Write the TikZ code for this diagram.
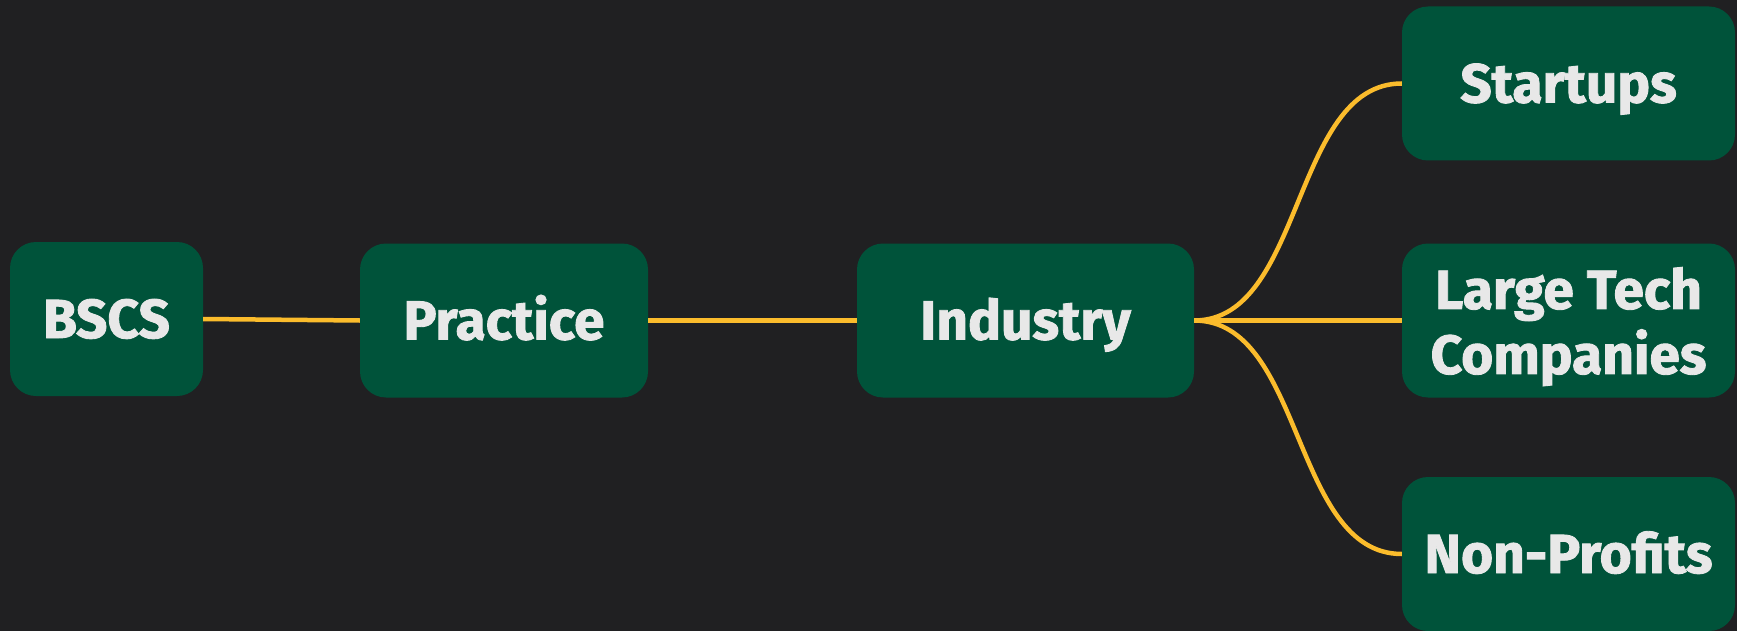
\documentclass[tikz,border=0pt]{standalone}
\usepackage{fontspec}
\setmainfont{Fira Sans}[BoldFeatures={FakeBold=1.6}]
\usepackage{tikz}

\definecolor{bgdark}{HTML}{202022}
\definecolor{boxgreen}{HTML}{00533A}
\definecolor{textgrey}{HTML}{E8E8E8}
\definecolor{linkyellow}{HTML}{FBBC2C}

\tikzset{
  stage/.style={fill=boxgreen, rounded corners=26pt, text=textgrey,
    font=\fontsize{55}{65}\selectfont\bfseries, align=center,
    minimum height=154pt, inner sep=0pt, text height=38pt, text depth=0pt},
  link/.style={draw=linkyellow, line width=4.5pt}
}

\begin{document}
\begin{tikzpicture}[x=1pt, y=-1pt]
		% Background
		\fill[bgdark] (0,0) rectangle (1737,631);
		\useasboundingbox (0,0) rectangle (1737,631);

		% Nodes
		\node[stage, minimum width=193pt] (bscs) at (106.5,319) {BSCS};
		\node[stage, minimum width=288pt] (practice) at (504,320.5) {Practice};
		\node[stage, minimum width=337pt] (industry) at (1025.5,320.5) {Industry};
		\node[stage, minimum width=333pt] (startups) at (1568.5,83.5) {Startups};
		\node[stage, minimum width=333pt, text height={}, text depth=0pt] (largetech) at (1568.5,320.5) {Large Tech\\Companies};
		\node[stage, minimum width=333pt] (nonprofits) at (1568.5,554) {Non-Profits};

		% Connectors
		\draw[link] (bscs.east) -- (practice.west);
		\draw[link] (practice.east) -- (industry.west);
		\draw[link] (industry.east) .. controls +(110,0) and +(-110,0) .. (startups.west);
		\draw[link] (industry.east) -- (largetech.west);
		\draw[link] (industry.east) .. controls +(110,0) and +(-110,0) .. (nonprofits.west);
	\end{tikzpicture}
\end{document}
